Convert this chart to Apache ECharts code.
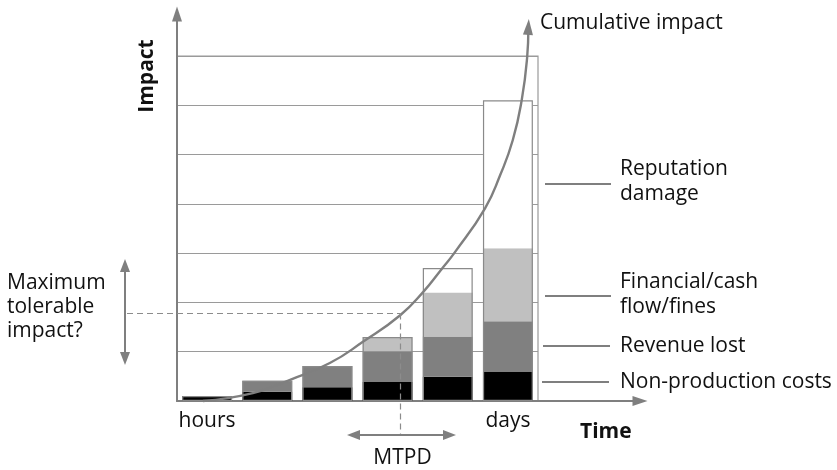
<!DOCTYPE html>
<html>
<head>
<meta charset="utf-8">
<script src="https://cdn.jsdelivr.net/npm/echarts@6/dist/echarts.min.js"></script>
<style>
  html, body { margin: 0; padding: 0; background: #fff; }
  #chart { width: 837px; height: 470px; }
</style>
</head>
<body>
<div id="chart"></div>
<script>
// Time buckets along the x axis (only the ends are labelled)
const categories = ['hours', '', '', '', '', 'days'];

// Impact components per time bucket (stacked, in grid units)
const nonProductionCosts = [0.10, 0.19, 0.28, 0.385, 0.49, 0.59];
const revenueLost        = [0, 0.22, 0.43, 0.625, 0.82, 1.03];
const financialFines     = [0, 0, 0, 0.29, 0.89, 1.48];
const reputationDamage   = [0, 0, 0, 0, 0.50, 3.00];

// Cumulative impact curve, [bucket position, impact]
const cumulativeCurve = [
  [0.43, 0.00], [1.26, 0.16], [1.88, 0.43], [2.54, 0.77], [3.09, 1.20],
  [3.71, 1.74], [4.09, 2.21], [4.40, 2.68], [4.62, 3.02], [5.12, 3.91],
  [5.37, 4.58], [5.58, 5.29], [5.73, 6.11], [5.82, 6.98], [5.84, 7.55]
];

// Maximum tolerable period of disruption: [bucket position, impact]
const mtpdPoint = [3.71, 1.79];

const impactTicks = { min: 0, max: 7, interval: 1 };

const FONT = '"Open Sans", "Noto Sans", sans-serif';
const FS = 21;
const AXIS_GREY = '#7f7f7f';
const GRID_GREY = '#9a9a9a';

const seg = arr => arr.map(v => (v === 0 ? '-' : v));
const totals = categories.map((_, i) =>
  nonProductionCosts[i] + revenueLost[i] + financialFines[i] + reputationDamage[i]);

const chart = echarts.init(document.getElementById('chart'));

// the last point of the curve carries the arrow head
const curveData = cumulativeCurve.map((p, i) =>
  i === cumulativeCurve.length - 1
    ? { value: p, symbol: 'triangle', symbolSize: [10, 16], symbolRotate: -3,
        symbolOffset: [0, -2], itemStyle: { color: AXIS_GREY } }
    : p);

function stackSeries(name, data, color) {
  return {
    name, type: 'bar', stack: 'impact', data: seg(data),
    xAxisIndex: 0, yAxisIndex: 0,
    barCategoryGap: '17%',
    itemStyle: { color },
    z: 2, silent: true
  };
}

chart.setOption({
  animation: false,
  backgroundColor: '#fff',
  textStyle: { fontFamily: FONT },
  grid: [
    // plotting area with the horizontal rules and the outer frame
    { left: 177, top: 56, width: 361, height: 345, show: true,
      borderColor: GRID_GREY, borderWidth: 1.2, backgroundColor: 'transparent' },
    // long arrowed axes
    { left: 177, top: 14, right: 197, bottom: 69 }
  ],
  xAxis: [
    { gridIndex: 0, type: 'category', data: categories,
      axisLine: { show: false }, axisTick: { show: false },
      axisLabel: { interval: 0, fontSize: FS, color: '#111', margin: 10, fontFamily: FONT },
      splitLine: { show: false } },
    { gridIndex: 0, type: 'value', min: 0, max: 6, show: false },
    { gridIndex: 1, type: 'value', min: 0, max: 1,
      axisLine: { show: true, symbol: ['none', 'triangle'], symbolSize: [10, 15],
        lineStyle: { color: AXIS_GREY, width: 2 } },
      axisTick: { show: false }, axisLabel: { show: false }, splitLine: { show: false } }
  ],
  yAxis: [
    { gridIndex: 0, type: 'value', min: impactTicks.min, max: impactTicks.max,
      interval: impactTicks.interval,
      axisLine: { show: false }, axisTick: { show: false }, axisLabel: { show: false },
      splitLine: { show: true, lineStyle: { color: GRID_GREY, width: 1.2 } } },
    { gridIndex: 1, type: 'value', min: 0, max: 1,
      axisLine: { show: true, symbol: ['none', 'triangle'], symbolSize: [10, 15],
        lineStyle: { color: AXIS_GREY, width: 2 } },
      axisTick: { show: false }, axisLabel: { show: false }, splitLine: { show: false } }
  ],
  series: [
    stackSeries('Non-production costs', nonProductionCosts, '#000000'),
    stackSeries('Revenue lost', revenueLost, '#808080'),
    stackSeries('Financial/cash flow/fines', financialFines, '#c0c0c0'),
    stackSeries('Reputation damage', reputationDamage, '#ffffff'),
    {
      name: 'outline', type: 'bar', stack: 'outline', data: totals,
      xAxisIndex: 0, yAxisIndex: 0, barGap: '-100%', barCategoryGap: '17%',
      itemStyle: { color: 'rgba(0,0,0,0)', borderColor: '#8a8a8a', borderWidth: 1.2 },
      z: 3, silent: true
    },
    {
      name: 'Cumulative impact', type: 'line', data: curveData,
      xAxisIndex: 1, yAxisIndex: 0, smooth: 0.5, clip: false,
      symbol: 'none', showSymbol: true,
      lineStyle: { color: AXIS_GREY, width: 2.4 },
      z: 6, silent: true
    }
  ]
});

// Annotations: side labels, MTPD guides and arrows
const mp = chart.convertToPixel({ xAxisIndex: 1, yAxisIndex: 0 }, mtpdPoint);
const mx = Math.round(mp[0]) + 0.5, my = Math.round(mp[1]) + 0.5;

function text(x, y, str, opts, extra) {
  return Object.assign({
    type: 'text', x, y, silent: true,
    style: Object.assign({ text: str, fill: '#111', font: FS + 'px ' + FONT,
      align: 'left', verticalAlign: 'middle', lineHeight: 25 }, opts || {})
  }, extra || {});
}
function line(x1, y1, x2, y2, extra) {
  return { type: 'line', silent: true, shape: { x1, y1, x2, y2 },
    style: Object.assign({ stroke: AXIS_GREY, lineWidth: 2 }, extra || {}) };
}
function head(tipX, tipY, dir) {
  const L = 13, W = 5;
  let pts;
  if (dir === 'up') pts = [[tipX, tipY], [tipX - W, tipY + L], [tipX + W, tipY + L]];
  if (dir === 'down') pts = [[tipX, tipY], [tipX - W, tipY - L], [tipX + W, tipY - L]];
  if (dir === 'left') pts = [[tipX, tipY], [tipX + L, tipY - W], [tipX + L, tipY + W]];
  if (dir === 'right') pts = [[tipX, tipY], [tipX - L, tipY - W], [tipX - L, tipY + W]];
  return { type: 'polygon', silent: true, shape: { points: pts }, style: { fill: AXIS_GREY } };
}

const dashed = { stroke: '#8c8c8c', lineWidth: 1.2, lineDash: [6, 4] };

chart.setOption({
  graphic: [
    // axis titles
    text(147, 76, 'Impact', { font: 'bold ' + FS + 'px ' + FONT, align: 'center' },
      { rotation: Math.PI / 2 }),
    text(580, 432, 'Time', { font: 'bold ' + FS + 'px ' + FONT }),
    text(540, 23, 'Cumulative impact'),

    // component labels with leader lines
    line(545, 184, 611, 184),
    text(620, 182, 'Reputation\ndamage'),
    line(545, 296, 611, 296),
    text(620, 295, 'Financial/cash\nflow/fines'),
    line(543, 346, 610, 346),
    text(620, 346, 'Revenue lost'),
    line(542, 382, 609, 382),
    text(620, 382, 'Non-production costs'),

    // maximum tolerable impact
    text(7, 307, 'Maximum\ntolerable\nimpact?', { lineHeight: 24 }),
    line(125, 270, 125, 354),
    head(125, 259, 'up'),
    head(125, 365, 'down'),

    // MTPD guides
    line(127, my, mx, my, dashed),
    line(mx, my, mx, 434, dashed),
    line(358, 435, 445, 435),
    head(347, 435, 'left'),
    head(456, 435, 'right'),
    text(mx + 2, 458, 'MTPD', { align: 'center' })
  ].map(g => Object.assign({ z: 20 }, g))
});
</script>
</body>
</html>
